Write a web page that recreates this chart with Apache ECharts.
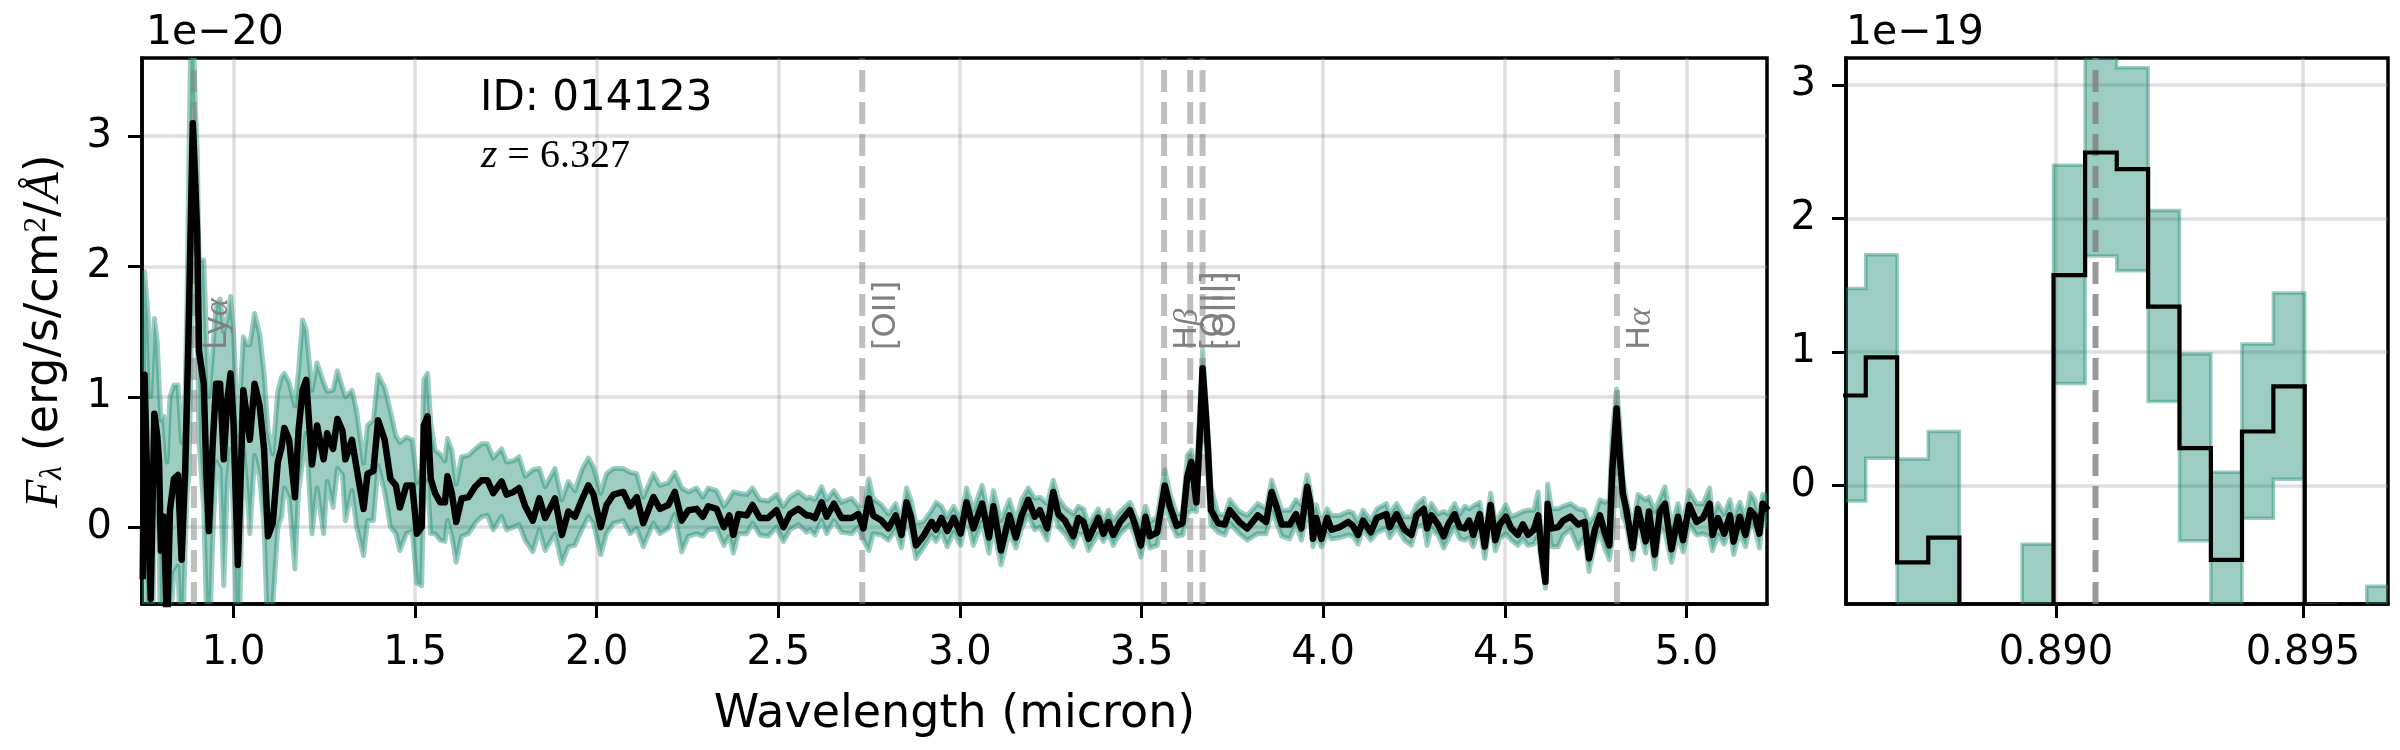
<!DOCTYPE html>
<html><head><meta charset="utf-8">
<style>html,body{margin:0;padding:0;background:#fff}#c{width:2400px;height:750px}</style>
<script src="https://cdn.jsdelivr.net/npm/echarts@6/dist/echarts.min.js"></script>
</head><body><div id="c"></div>
<script>
const wave = [
.75,.755,.765,.772,.782,.79,.795,.80,.808,.817,.825,.836,.847,.857,.867,.872,.877,.882,.888,.895,
.90,.905,.918,.925,.932,.942,.952,.963,.973,.983,.992,1.0,1.012,1.018,1.027,1.038,1.045,1.058,1.072,1.084,
1.095,1.108,1.122,1.132,1.14,1.153,1.169,1.179,1.19,1.2,1.216,1.23,1.248,1.258,1.274,1.286,1.3,1.308,1.326,1.339,
1.358,1.369,1.385,1.398,1.416,1.432,1.447,1.458,1.476,1.492,1.505,1.518,1.524,1.534,1.543,
1.555,1.569,1.582,1.589,1.601,1.613,1.628,1.647,1.665,1.683,1.699,1.715,1.738,1.752,1.771,1.786,1.803,1.824,1.842,1.858,1.885,1.904,1.922,
1.94,1.959,1.977,1.991,2.011,2.027,2.046,2.073,2.092,2.11,2.128,2.156,2.174,2.197,2.215,2.234,2.252,2.275,2.292,2.307,
2.33,2.35,2.365,2.376,2.39,2.413,2.429,2.449,2.472,2.495,2.514,2.532,2.555,2.578,
2.587,2.601,2.619,2.633,2.653,2.674,2.702,2.72,2.734,2.749,2.761,2.784,2.803,2.823,2.839,2.853,2.865,2.879,2.899,2.922,
2.934,2.949,2.965,2.983,3.002,3.018,3.037,3.061,3.08,3.092,3.113,3.136,3.154,3.17,3.188,3.206,3.22,3.24,
3.257,3.271,3.289,3.312,3.326,3.34,3.354,3.381,3.395,3.409,3.422,3.441,3.468,3.482,3.498,3.511,3.523,3.543,3.564,3.578,3.597,3.613,
3.626,3.637,3.651,3.662,3.668,3.677,3.683,3.691,3.711,3.729,3.743,3.769,3.791,3.82,3.843,3.858,3.871,3.886,
3.908,3.925,3.94,3.956,3.965,3.972,3.981,3.995,4.011,4.023,4.046,4.069,4.082,4.096,4.11,4.131,4.148,4.174,4.183,4.202,
4.224,4.243,4.257,4.277,4.286,4.298,4.316,4.332,4.344,4.362,4.376,4.39,4.402,4.413,4.431,4.445,4.461,4.474,4.486,4.503,4.518,4.536,4.55,4.564,
4.58,4.592,4.601,4.612,4.618,4.629,4.647,4.661,4.681,4.702,4.72,4.732,4.748,4.762,4.775,4.788,4.796,4.808,4.816,4.825,
4.835,4.852,4.867,4.888,4.897,4.913,4.927,4.941,4.959,4.977,4.991,5.008,5.028,5.046,5.064,5.072,5.087,5.104,5.12,5.13,
5.147,5.163,5.176,5.188,5.201,5.21,5.225
];
const flux = [
-.4,1.17,.05,-.55,.87,.7,.5,-.18,.08,-.8,.13,.37,.4,-.25,.45,1.0,1.6,2.3,3.1,2.63,
2.25,1.35,1.1,.43,-.03,.6,1.1,1.1,.52,.98,1.18,.8,-.29,.23,1.05,.82,.67,1.1,.93,.6,
-.07,.03,.5,.61,.76,.67,.23,.74,1.05,1.13,.48,.78,.52,.72,.6,.83,.74,.52,.67,.45,
.14,.41,.43,.82,.67,.37,.32,.15,.32,.32,-.05,0,.78,.85,.37,
.26,.19,.19,.39,.26,.04,.22,.23,.31,.36,.36,.26,.35,.25,.27,.3,.16,.05,.22,.07,.22,-.06,.12,
.08,.21,.32,.25,0,.17,.25,.27,.16,.23,.03,.23,.14,.17,.27,.05,.13,.14,.08,.16,
.14,0,.09,-.06,.1,.09,.17,.07,.07,.13,0,.1,.14,.09,
.09,.07,.19,.08,.18,.07,.07,.1,-.01,.22,.09,.05,-.01,.09,-.06,.19,.08,-.14,-.07,.04,
-.02,.07,-.03,.07,-.05,.19,-.01,.18,-.08,.16,-.18,.09,-.08,.09,.21,.08,.13,-.01,
.27,.1,.05,-.07,.07,.04,-.09,.07,-.05,.04,-.06,.04,.13,.02,-.14,.08,-.07,-.04,.32,.16,.01,.03,
.39,.5,.19,.8,1.22,.87,.59,.13,.03,.02,.13,.04,-.01,.09,.04,.27,.16,.02,
.02,.1,-.01,.31,.18,-.09,.07,-.09,.07,-.02,0,.04,.01,-.06,.05,-.04,.07,.1,0,.1,
-.02,-.06,.09,.14,-.01,.09,.02,-.07,.02,.1,0,-.01,.05,-.06,.1,-.15,.17,-.1,.02,.08,-.01,-.06,.02,-.06,
-.02,.09,-.18,-.42,.18,-.01,0,.05,.08,.02,.04,-.24,-.02,.09,-.04,-.14,.44,.91,.57,.26,
.13,-.16,.14,-.11,.12,-.21,.12,.18,-.17,.08,-.1,.17,.04,.07,.18,-.06,.07,-.05,.09,-.11,
.08,-.06,.13,.09,-.05,.18,.13
];
const upper = [
.6,1.96,1.62,1.0,1.6,1.42,1.1,.82,.85,.5,1.0,1.09,1.09,.65,1.05,1.75,2.8,3.7,4.0,3.2,
2.9,2.05,2.05,1.48,1.0,1.33,1.7,1.75,1.5,1.6,1.77,1.5,.7,1.0,1.46,1.4,1.4,1.64,1.48,1.18,
.74,.56,1.04,1.15,1.18,1.11,.93,1.2,1.59,1.51,1.05,1.26,1.11,1.04,1.05,1.2,1.07,1.0,1.05,.89,
.49,.78,.82,1.17,1.07,.89,.7,.65,.69,.67,.34,.45,1.13,1.18,.8,
.59,.56,.51,.68,.59,.33,.54,.55,.6,.64,.64,.53,.6,.5,.51,.54,.39,.44,.45,.31,.45,.21,.35,
.28,.44,.53,.46,.26,.41,.45,.45,.42,.41,.23,.41,.32,.34,.42,.3,.27,.3,.23,.3,
.28,.16,.22,.27,.26,.25,.3,.21,.2,.25,.16,.23,.27,.22,
.23,.21,.31,.21,.28,.19,.22,.16,.09,.37,.22,.17,.1,.18,.05,.3,.21,.03,.04,.13,
.19,.16,.08,.16,.05,.3,.13,.32,.08,.28,.05,.21,.05,.21,.3,.22,.23,.18,
.36,.22,.15,.1,.16,.14,.02,.14,.05,.13,.05,.12,.19,.1,0,.16,.04,.08,.44,.26,.1,.1,
.55,.59,.38,1.0,1.36,.97,.72,.31,.1,.09,.21,.12,.09,.18,.14,.36,.25,.13,
.13,.21,.17,.4,.28,.12,.17,.02,.14,.09,.09,.12,.11,.04,.13,.05,.14,.18,.1,.18,
.08,.08,.17,.22,.1,.18,.1,.12,.1,.18,.1,.16,.14,.16,.19,-.05,.26,.03,.09,.17,.08,.1,.12,.13,
.13,.27,-.07,-.3,.33,.14,.14,.16,.18,.14,.13,.03,.09,.21,.19,.21,.72,1.06,.82,.39,
.21,0,.25,.21,.23,.12,.22,.31,0,.18,.03,.28,.18,.18,.3,.08,.18,.1,.21,.07,
.19,.07,.26,.21,.08,.25,.25
];
const lower = [
-1.4,.38,-1.5,-2.1,.14,-.02,-.1,-1.18,-.7,-2,-.75,-.35,-.3,-1.15,-.15,.25,.4,1.1,2.2,2.05,
1.6,.65,.15,-.6,-1.05,-.15,.5,.45,-.45,.35,.6,.1,-1.2,-.55,.62,.25,-.05,.55,.38,0,
-.9,-.6,0,.08,.3,.22,-.32,.28,.5,.72,-.05,.3,-.05,.35,.15,.45,.4,.05,.28,0,
-.22,.05,.05,.47,.27,0,-.05,-.18,-.05,-.03,-.43,-.45,.3,.35,-.05,
-.05,-.1,-.11,.05,-.07,-.27,-.07,-.05,.03,.08,.09,-.02,.08,-.02,0,.02,-.1,-.19,-.02,-.18,-.05,-.28,-.15,
-.14,-.02,.08,.03,-.21,-.05,.03,.05,-.05,-.01,-.15,.03,-.05,-.01,.1,-.19,-.07,-.05,-.07,-.02,
-.01,-.14,-.07,-.2,-.05,-.05,.03,-.06,-.07,0,-.11,-.02,.02,-.04,
-.02,-.06,.05,-.05,.05,-.04,-.05,.0,-.1,-.18,-.05,-.06,-.1,-.02,-.16,.08,-.05,-.24,-.16,-.06,
-.11,-.04,-.15,-.04,-.14,.08,-.14,.04,-.2,0,-.29,-.04,-.16,-.01,.09,-.02,0,-.1,
.14,0,-.05,-.15,-.05,-.06,-.18,-.05,-.11,-.05,-.14,-.05,.02,-.07,-.23,-.06,-.16,-.14,.18,.05,-.07,-.06,
.1,.13,.12,.6,.87,.67,.36,.02,-.04,-.06,.03,-.05,-.1,-.05,-.05,.12,.04,-.07,
-.09,.02,-.1,.1,.04,-.15,-.06,-.15,-.05,-.09,-.08,-.06,-.07,-.13,-.02,-.1,-.04,-.01,-.08,0,
-.1,-.14,0,.02,-.14,-.01,-.06,-.16,-.09,0,-.09,-.1,-.08,-.15,0,-.24,.04,-.18,-.09,-.05,-.1,-.14,-.09,-.14,
-.13,-.07,-.28,-.47,.05,-.15,-.15,-.06,-.02,-.16,-.07,-.34,-.13,-.04,-.16,-.25,-.1,.51,.39,.08,
.02,-.25,.03,-.2,0,-.32,-.01,-.04,-.27,-.06,-.19,.02,-.06,-.05,-.07,-.18,-.06,-.13,-.01,-.21,
-.04,-.15,.02,.0,-.16,.06,.02
];

const zoomWave = [.88519,.88583,.88647,.8871,.88773,.88836,.889,.88963,.89027,.89091,.89155,.89218,.89282,.89345,.89408,.89472,.89535,.89598,.8966,.89724];
const zoomFlux = [.4,.675,.96,-.575,-.39,-1.6,-1.2,-1.1,1.576,2.495,2.37,1.34,.28,-.557,.405,.743,-1.3,-1.5,-1.3,-1.3];
const zoomUpper = [1.2,1.476,1.73,.2,.405,-1.0,-1.0,-.44,2.40,3.27,3.13,2.06,.985,.10,1.06,1.443,-.89,-1.1,-.754,-.754];
const zoomLower = [-.4,-.115,.205,-1.35,-1.2,-2.2,-2.0,-1.8,.765,1.72,1.61,.63,-.413,-1.2,-.244,.047,-1.9,-2,-2,-2];

const lineWave = [.8908,2.731,3.562,3.634,3.668,4.809];
const lineName = ['Ly','[OII]','H','[OIII]','[OIII]','H'];
const lineGreek = ['α','','β','','','α'];
const xTicksMain = [1,1.5,2,2.5,3,3.5,4,4.5,5];
const yTicksMain = [0,1,2,3];
const xTicksZoom = [.89,.895];
const yTicksZoom = [0,1,2,3];
const idText = 'ID: 014123';
const zText = ' = 6.327';

const FONT = 'DejaVu Sans';
const TEAL = 'rgba(22,135,110,0.42)';
const GRID = 'rgba(150,150,150,0.3)';

function bandSeries(xi, yi, w, up, lo, lw, stepped){
  return {type:'custom',xAxisIndex:xi,yAxisIndex:yi,clip:true,z:3,silent:true,
    data:w.map((v,i)=>[v,up[i],lo[i]]),
    encode:{x:0,y:[1,2]},
    renderItem(p,api){
      if(p.dataIndex!==0) return null;
      const top=[],bot=[];
      for(let i=0;i<w.length;i++){
        if(stepped){
          const a=i===0?w[0]:(w[i-1]+w[i])/2, b=i===w.length-1?w[i]:(w[i]+w[i+1])/2;
          top.push(api.coord([a,up[i]]),api.coord([b,up[i]]));
          bot.push(api.coord([a,lo[i]]),api.coord([b,lo[i]]));
        } else {
          top.push(api.coord([w[i],up[i]]));
          bot.push(api.coord([w[i],lo[i]]));
        }
      }
      return {type:'polygon',shape:{points:top.concat(bot.reverse())},
        style:{fill:TEAL,stroke:TEAL,lineWidth:lw,lineJoin:stepped?'miter':'round'}};
    }};
}
function fluxSeries(xi, yi, w, f, lw, stepped){
  return {type:'line',xAxisIndex:xi,yAxisIndex:yi,step:stepped?'middle':false,showSymbol:false,clip:true,z:6,silent:true,
    data:w.map((v,i)=>[v,f[i]]),lineStyle:{color:'#000',width:lw,join:stepped?'miter':'round'}};
}
function linesSeries(xi, yi, waves, names, greek, stroke, labels){
  return {type:'custom',xAxisIndex:xi,yAxisIndex:yi,clip:!labels,z:5,silent:true,
    data:waves.map((v,i)=>[v,i]),encode:{x:0},
    renderItem(p,api){
      const i=p.dataIndex,x=api.value(0);
      const a=api.coord([x,0]);
      const r=p.coordSys;
      const kids=[{type:'line',shape:{x1:a[0],y1:r.y+r.height,x2:a[0],y2:r.y},
        style:{stroke:stroke,lineWidth:6,lineDash:[22,10]}}];
      if(labels){
        const c=api.coord([x,1.36]);
        kids.push({type:'text',x:c[0]+24,y:c[1],rotation:Math.PI/2,z2:9,
          style:{text:'{a|'+names[i]+'}'+(greek[i]?'{g|'+greek[i]+'}':''),align:'left',verticalAlign:'middle',
            rich:{a:{fontFamily:FONT,fontSize:32,fill:'#808080',color:'#808080'},
                  g:{fontFamily:'Liberation Serif',fontStyle:'italic',fontSize:34,fill:'#808080',color:'#808080'}}}});
      }
      return {type:'group',children:kids};
    }};
}
function xAxis(gi,min,max,ticks,fmt){
  return {type:'value',gridIndex:gi,min,max,position:'bottom',
    axisLine:{show:true,onZero:false,lineStyle:{color:'#000',width:3.5}},
    axisTick:{show:true,length:14,customValues:ticks,lineStyle:{color:'#000',width:3}},
    axisLabel:{show:true,customValues:ticks,formatter:fmt,margin:30,color:'#000',fontFamily:FONT,fontSize:40},
    splitLine:{show:true,lineStyle:{color:GRID,width:3.5}}};
}
function yAxis(gi,min,max,ticks,extra){
  return Object.assign({type:'value',gridIndex:gi,min,max,
    axisLine:{show:true,onZero:false,lineStyle:{color:'#000',width:3.5}},
    axisTick:{show:true,length:14,customValues:ticks,lineStyle:{color:'#000',width:3}},
    axisLabel:{show:true,customValues:ticks,formatter:v=>String(v),margin:30,color:'#000',fontFamily:FONT,fontSize:40,padding:[3,0,0,0]},
    splitLine:{show:true,lineStyle:{color:GRID,width:3.5}}},extra||{});
}

const chart = echarts.init(document.getElementById('c'),null,{renderer:'canvas'});
chart.setOption({
  animation:false,backgroundColor:'#fff',
  title:[
    {text:'1e−20',left:141,top:8,textStyle:{fontFamily:FONT,fontSize:41,fontWeight:'normal',color:'#000'}},
    {text:'1e−19',left:1841,top:8,textStyle:{fontFamily:FONT,fontSize:41,fontWeight:'normal',color:'#000'}},
    {text:idText,left:475,top:73,textStyle:{fontFamily:FONT,fontSize:42,fontWeight:'normal',color:'#000'}},
    {text:'{i|z}{r|'+zText+'}',left:476,top:130,textStyle:{fontWeight:'normal',rich:{
       i:{fontFamily:'Liberation Serif',fontStyle:'italic',fontWeight:'normal',fontSize:42,color:'#000'},
       r:{fontFamily:'Liberation Serif',fontWeight:'normal',fontSize:40,color:'#000'}}}}
  ],
  grid:[
    {left:142,top:58,width:1625,height:546,show:true,borderColor:'#000',borderWidth:3.5,backgroundColor:'transparent'},
    {left:1846,top:58,width:542,height:546,show:true,borderColor:'#000',borderWidth:3.5,backgroundColor:'transparent'}
  ],
  xAxis:[
    Object.assign(xAxis(0,.748,5.222,xTicksMain,v=>v.toFixed(1)),{name:'Wavelength (micron)',nameLocation:'middle',nameGap:88,
      nameTextStyle:{fontFamily:FONT,fontSize:46,color:'#000'}}),
    xAxis(1,.88575,.89672,xTicksZoom,v=>v.toFixed(3))
  ],
  yAxis:[
    yAxis(0,-.59,3.6,yTicksMain,{name:'{f|F}{s|λ}{t| (erg/s/cm}{u|2}{t|/}{v|Å}{t|)}',nameLocation:'middle',nameRotate:90,nameGap:73,
      nameTextStyle:{rich:{
        f:{fontFamily:'Liberation Serif',fontStyle:'italic',fontSize:46,color:'#000'},
        s:{fontFamily:'Liberation Serif',fontStyle:'italic',fontSize:32,color:'#000',verticalAlign:'bottom',lineHeight:40},
        t:{fontFamily:FONT,fontSize:46,color:'#000'},
        u:{fontFamily:'Liberation Serif',fontSize:31,color:'#000',verticalAlign:'top'},
        v:{fontFamily:'Liberation Serif',fontStyle:'italic',fontSize:48,color:'#000'}}}}),
    yAxis(1,-.887,3.203,yTicksZoom)
  ],
  series:[
    bandSeries(0,0,wave,upper,lower,5,false),
    linesSeries(0,0,lineWave,lineName,lineGreek,'rgba(128,128,128,0.5)',true),
    fluxSeries(0,0,wave,flux,6.5,false),
    bandSeries(1,1,zoomWave,zoomUpper,zoomLower,3.5,true),
    linesSeries(1,1,[lineWave[0]],[''],[''],'rgba(128,128,128,0.8)',false),
    fluxSeries(1,1,zoomWave,zoomFlux,4.2,true)
  ]
});
</script></body></html>
